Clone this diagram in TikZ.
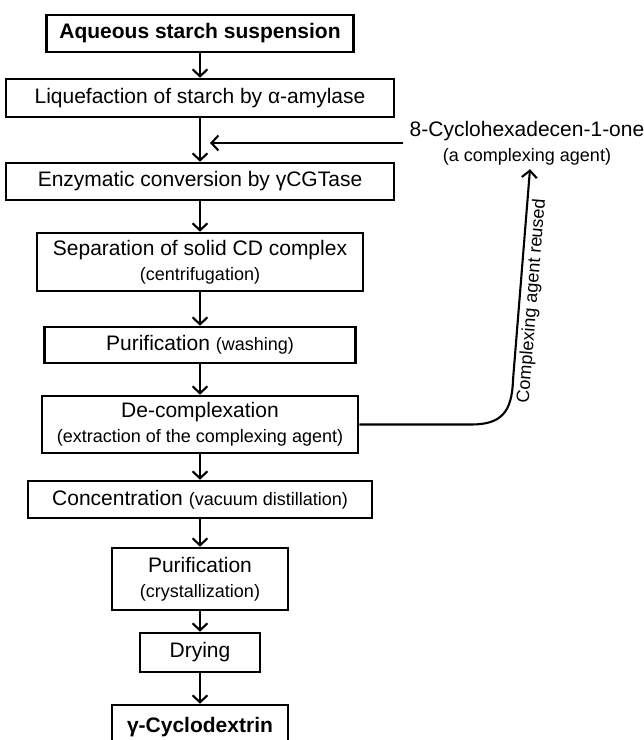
\documentclass[tikz,border=0pt]{standalone}
\usepackage{fontspec}
\setmainfont{Liberation Sans}
\usetikzlibrary{arrows.meta}

\tikzset{
  stage/.style={draw, line width=2.6pt, inner sep=0pt, align=center,
    font=\fontsize{21}{25}\selectfont},
  flow/.style={line width=2.1pt,
    -{Straight Barb[length=7pt,width=15pt,line width=2.1pt]}},
}
\newcommand{\aside}[1]{{\fontsize{18}{25}\selectfont #1}}

\begin{document}
\begin{tikzpicture}[x=1pt,y=-1pt]
\useasboundingbox (0,0) rectangle (644,740);

% main line of the process
\node[stage, minimum width=307pt, minimum height=37pt] (susp) at (200,33.5) {\textbf{Aqueous starch suspension}};
\node[stage, minimum width=388pt, minimum height=38pt] (liq) at (200,98) {Liquefaction of starch by α-amylase};
\node[stage, minimum width=388pt, minimum height=37pt] (enz) at (200,181.5) {Enzymatic conversion by γCGTase};
\node[stage, minimum width=326pt, minimum height=58pt] (sep) at (200,262) {Separation of solid CD complex\\\aside{(centrifugation)}};
\node[stage, minimum width=311pt, minimum height=36pt] (wash) at (200,345) {Purification \aside{(washing)}};
\node[stage, minimum width=316pt, minimum height=57pt] (decomp) at (200,424.5) {De-complexation\\\aside{(extraction of the complexing agent)}};
\node[stage, minimum width=344pt, minimum height=37pt] (conc) at (200,499.5) {Concentration \aside{(vacuum distillation)}};
\node[stage, minimum width=176pt, minimum height=62pt] (cryst) at (200,579) {Purification\\\aside{(crystallization)}};
\node[stage, minimum width=120pt, minimum height=39pt] (dry) at (200,652.5) {Drying};
\node[stage, minimum width=176pt, minimum height=44pt] (gcd) at (200,727) {\textbf{γ-Cyclodextrin}};

% complexing agent
\node[align=center, inner xsep=6pt, inner ysep=4pt, font=\fontsize{21}{25}\selectfont] (agent) at (527,143)
  {8-Cyclohexadecen-1-one\\\aside{(a complexing agent)}};
\coordinate (join) at (210,143);
\coordinate (bend) at (513,380);

\draw[flow] (susp) -- (liq);
\draw[flow] (liq) -- (enz);
\draw[flow] (enz) -- (sep);
\draw[flow] (sep) -- (wash);
\draw[flow] (wash) -- (decomp);
\draw[flow] (decomp) -- (conc);
\draw[flow] (conc) -- (cryst);
\draw[flow] (cryst) -- (dry);
\draw[flow] (dry) -- (gcd);

\draw[flow] (agent.west) -- (join);
\draw[flow] (decomp.east) -- ++(112,0) .. controls +(30,0) and +(-1,32) .. (bend)
  -- node[pos=0.38, sloped, below] {\aside{Complexing agent reused}} ([xshift=3pt]agent.south);
\end{tikzpicture}
\end{document}
